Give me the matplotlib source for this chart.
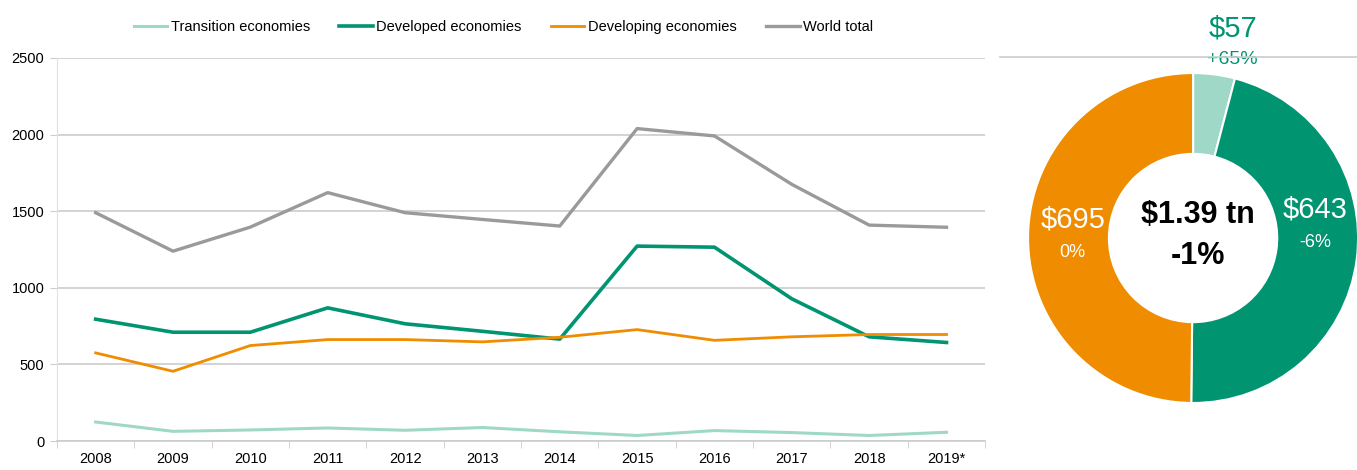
import matplotlib.pyplot as plt
from matplotlib import font_manager

# fonts: narrow sans if available, otherwise fall back
names = {f.name for f in font_manager.fontManager.ttflist}
FONT = "Liberation Sans Narrow" if "Liberation Sans Narrow" in names else "Liberation Sans"
plt.rcParams["font.family"] = [FONT, "DejaVu Sans"]

# --- data ---
years = ["2008", "2009", "2010", "2011", "2012", "2013",
         "2014", "2015", "2016", "2017", "2018", "2019*"]
transition = [124, 63, 72, 85, 70, 88, 60, 36, 68, 55, 36, 57]
developed = [795, 710, 710, 869, 765, 716, 665, 1272, 1265, 928, 680, 643]
developing = [575, 455, 623, 662, 662, 647, 677, 727, 657, 680, 695, 695]
world = [1490, 1239, 1396, 1621, 1490, 1446, 1403, 2039, 1991, 1675, 1409, 1395]

donut_labels = ["$57", "$643", "$695"]
donut_changes = ["+65%", "-6%", "0%"]
donut_values = [57, 643, 695]

C_TRANS = "#9fd8c7"
C_DEVD = "#009471"
C_DEVG = "#f08c00"
C_WORLD = "#9a9a9a"
GRID = "#cccccc"

fig = plt.figure(figsize=(13.57, 4.70), dpi=100)

# -------------------------
# line chart
# -------------------------
ax = fig.add_axes([0.042, 0.0617, 0.684, 0.815])
x = range(len(years))
ax.plot(x, transition, color=C_TRANS, lw=2.2, label="Transition economies")
ax.plot(x, developed, color=C_DEVD, lw=2.6, label="Developed economies")
ax.plot(x, developing, color=C_DEVG, lw=2.0, label="Developing economies")
ax.plot(x, world, color=C_WORLD, lw=2.4, label="World total")

ax.set_xlim(-0.5, len(years) - 0.5)
ax.set_ylim(0, 2500)
ax.set_yticks(range(0, 2501, 500))
ax.set_xticks(x)
ax.set_xticklabels(years, fontsize=10.5)
ax.set_xticks([i - 0.5 for i in range(len(years) + 1)], minor=True)
ax.tick_params(axis="x", which="major", length=0, pad=8)
ax.tick_params(axis="x", which="minor", length=5, color=GRID)
ax.tick_params(axis="y", length=5, color=GRID, labelsize=10.5, pad=4)
ax.grid(axis="y", color=GRID, lw=1.2)
ax.set_axisbelow(True)
for s in ["top", "right"]:
    ax.spines[s].set_visible(False)
ax.spines["left"].set_color("#e0e0e0")
ax.spines["bottom"].set_color(GRID)
ax.spines["bottom"].set_linewidth(1.2)

fig.legend(loc="upper center", bbox_to_anchor=(0.371, 0.985), ncol=4, frameon=False,
           fontsize=10.5, handlelength=2.3, handletextpad=0.25, columnspacing=2.0)

# -------------------------
# donut
# -------------------------
ax2 = fig.add_axes([0.7576, 0.1426, 0.2432, 0.702])
ax2.pie(donut_values, colors=[C_TRANS, C_DEVD, C_DEVG], startangle=90, counterclock=False,
        radius=1.0, wedgeprops=dict(width=0.49, edgecolor="white", linewidth=1.5))
ax2.set_xlim(-1, 1)
ax2.set_ylim(-1, 1)
ax2.set_aspect("auto")
ax2.axis("off")

# value labels
ax2.text(0.24, 1.27, donut_labels[0], color=C_DEVD, fontsize=21, ha="center", va="center")
ax2.text(0.24, 1.08, donut_changes[0], color=C_DEVD, fontsize=14, ha="center", va="center")
ax2.text(0.74, 0.17, donut_labels[1], color="white", fontsize=21, ha="center", va="center")
ax2.text(0.74, -0.03, donut_changes[1], color="white", fontsize=13, ha="center", va="center")
ax2.text(-0.73, 0.11, donut_labels[2], color="white", fontsize=21, ha="center", va="center")
ax2.text(-0.73, -0.09, donut_changes[2], color="white", fontsize=13, ha="center", va="center")
ax2.text(0.03, 0.14, "$1.39 tn", color="black", fontsize=22, fontweight="bold",
         ha="center", va="center")
ax2.text(0.03, -0.11, "-1%", color="black", fontsize=22, fontweight="bold",
         ha="center", va="center")

# thin rule on the right
fig.add_artist(plt.Line2D([0.737, 1.0], [0.879, 0.879], color=GRID, lw=1.2))

fig.savefig("out.png", dpi=100)
